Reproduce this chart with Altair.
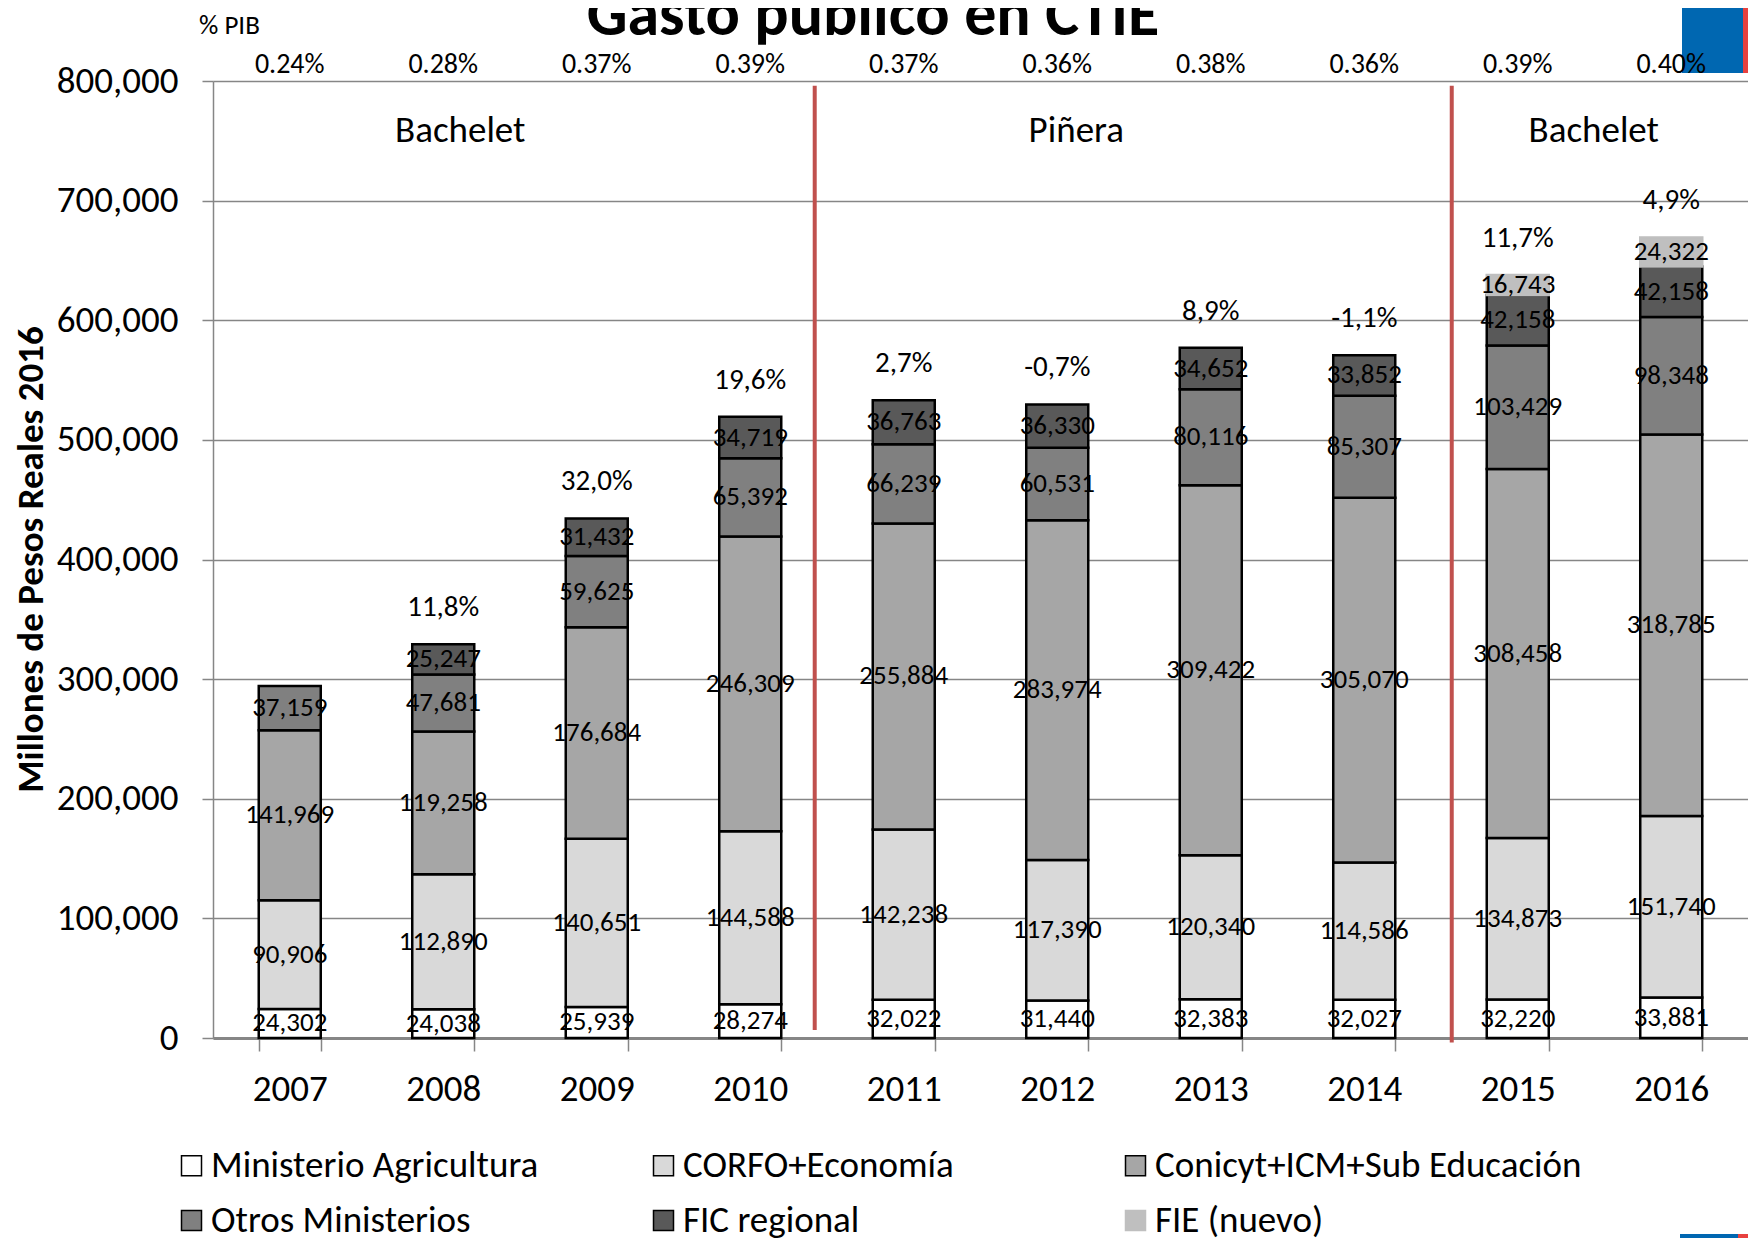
import altair as alt
import pandas as pd

FONT = "Carlito, Lato, sans-serif"

years = ["2007", "2008", "2009", "2010", "2011", "2012", "2013", "2014", "2015", "2016"]
series = ["Ministerio Agricultura", "CORFO+Economía", "Conicyt+ICM+Sub Educación",
          "Otros Ministerios", "FIC regional", "FIE (nuevo)"]
agricultura = [24302, 24038, 25939, 28274, 32022, 31440, 32383, 32027, 32220, 33881]
corfo = [90906, 112890, 140651, 144588, 142238, 117390, 120340, 114586, 134873, 151740]
conicyt = [141969, 119258, 176684, 246309, 255884, 283974, 309422, 305070, 308458, 318785]
otros = [37159, 47681, 59625, 65392, 66239, 60531, 80116, 85307, 103429, 98348]
fic = [0, 25247, 31432, 34719, 36763, 36330, 34652, 33852, 42158, 42158]
fie = [0, 0, 0, 0, 0, 0, 0, 0, 16743, 24322]
pib = ["0.24%", "0.28%", "0.37%", "0.39%", "0.37%", "0.36%", "0.38%", "0.36%", "0.39%", "0.40%"]
growth = ["", "11,8%", "32,0%", "19,6%", "2,7%", "-0,7%", "8,9%", "-1,1%", "11,7%", "4,9%"]
presidents = ["Bachelet", "Piñera", "Bachelet"]
president_year = ["2008", "2012", "2015"]
president_shift = [17, 19, 76]
# government changes, in year units (between bars)
divider_time = [2010.42, 2014.57]
divider_top = [796000, 796000]
divider_bottom = [6700, -3700]

fills = ["#FFFFFF", "#D9D9D9", "#A6A6A6", "#808080", "#595959", "#BFBFBF"]
strokes = ["#000000", "#000000", "#000000", "#000000", "#000000", "#BFBFBF"]

values_by_series = [agricultura, corfo, conicyt, otros, fic, fie]

rows = []
for i, y in enumerate(years):
    base = 0
    for k, s in enumerate(series):
        v = values_by_series[k][i]
        if v > 0:
            rows.append({"year": y, "series": s, "order": k, "y0": base, "y1": base + v,
                         "mid": base + v / 2, "label": f"{v:,}"})
        base += v
seg = pd.DataFrame(rows)

totals = [sum(values_by_series[k][i] for k in range(len(series))) for i in range(len(years))]
yr = pd.DataFrame({"year": years, "total": totals, "growth": growth, "pib": pib})
div = pd.DataFrame({"t": divider_time, "top": divider_top, "bottom": divider_bottom})

GRAY = "#868686"

xscale = alt.Scale(domain=years, paddingInner=0.596, paddingOuter=0.298)
yscale = alt.Scale(domain=[0, 800000], nice=False, zero=True)

yaxis = alt.Axis(values=list(range(0, 800001, 100000)), format=",.0f",
                 labelFont=FONT, labelFontSize=37, labelColor="black", labelPadding=24,
                 tickSize=11, tickColor=GRAY, tickWidth=1.5,
                 domainColor=GRAY, domainWidth=1.5,
                 grid=True, gridColor=GRAY, gridWidth=1.5,
                 title="Millones de Pesos Reales 2016", titleFont=FONT,
                 titleFontSize=37, titleFontWeight="bold", titleColor="black",
                 titleAngle=-90, titleX=-182, titleY=478, titleAlign="center",
                 titleBaseline="middle")

legend = alt.Legend(
    title=None, orient="none", legendX=-40, legendY=1066, direction="horizontal",
    columns=3, gridAlign="all", columnPadding=7, rowPadding=17,
    symbolType="square", symbolSize=400, symbolStrokeWidth=1.5,
    labelFont=FONT, labelFontSize=37, labelColor="black", labelOffset=1, labelLimit=700,
)

bars = alt.Chart(seg).mark_bar(strokeWidth=2.5).encode(
    x=alt.X("year:N", scale=xscale, title=None,
            axis=alt.Axis(tickBand="extent", tickSize=13, tickColor=GRAY, tickWidth=1.5,
                          domainColor=GRAY, domainWidth=3, labelFont=FONT, labelFontSize=37,
                          labelColor="black", labelPadding=20, labelAngle=0)),
    y=alt.Y("y0:Q", scale=yscale, axis=yaxis),
    y2="y1:Q",
    fill=alt.Fill("series:N", scale=alt.Scale(domain=series, range=fills), legend=legend),
    stroke=alt.Stroke("series:N", scale=alt.Scale(domain=series, range=strokes), legend=legend),
    order=alt.Order("order:Q"),
)

seg_labels = alt.Chart(seg).mark_text(font=FONT, fontSize=27, color="black", baseline="middle").encode(
    x=alt.X("year:N", scale=xscale),
    y=alt.Y("mid:Q", scale=yscale, axis=yaxis),
    text="label:N",
)

growth_labels = alt.Chart(yr).mark_text(font=FONT, fontSize=29, color="black", baseline="middle", dy=-37).encode(
    x=alt.X("year:N", scale=xscale),
    y=alt.Y("total:Q", scale=yscale, axis=yaxis),
    text="growth:N",
)

pib_labels = alt.Chart(yr).mark_text(font=FONT, fontSize=28, color="black", baseline="middle").encode(
    x=alt.X("year:N", scale=xscale),
    y=alt.datum(813000),
    text="pib:N",
)

pres_layers = []
for name, yv, sh in zip(presidents, president_year, president_shift):
    pres_layers.append(
        alt.Chart(pd.DataFrame({"year": [yv], "name": [name]})).mark_text(
            font=FONT, fontSize=37, color="black", baseline="middle", dx=sh).encode(
            x=alt.X("year:N", scale=xscale), y=alt.datum(758000), text="name:N"))

base_layer = alt.layer(
    bars, seg_labels, growth_labels, pib_labels, *pres_layers,
)

dividers = alt.Chart(div).mark_rule(color="#C0504D", strokeWidth=4).encode(
    x=alt.X("t:Q", scale=alt.Scale(domain=[2006.5, 2016.5], nice=False, zero=False), axis=None),
    y=alt.Y("top:Q", scale=yscale, axis=yaxis),
    y2="bottom:Q",
)

pib_title = alt.Chart(pd.DataFrame({"t": ["% PIB"]})).mark_text(
    font=FONT, fontSize=27, color="black", align="left", baseline="middle").encode(
    x=alt.value(-14), y=alt.value(-55), text="t:N")

main_title = alt.Chart(pd.DataFrame({"t": ["Gasto público en CTIE"]})).mark_text(
    font=FONT, fontSize=64, fontWeight="bold", color="black", align="center", baseline="alphabetic").encode(
    x=alt.value(660), y=alt.value(-46), text="t:N")

deco_blue = alt.Chart(pd.DataFrame({"a": [0]})).mark_rect(color="#0067B1").encode(
    x=alt.value(1469), x2=alt.value(1530), y=alt.value(-90), y2=alt.value(-8))
deco_red = alt.Chart(pd.DataFrame({"a": [0]})).mark_rect(color="#E8413F").encode(
    x=alt.value(1530), x2=alt.value(1545), y=alt.value(-90), y2=alt.value(-8))
deco_blue2 = alt.Chart(pd.DataFrame({"a": [0]})).mark_rect(color="#0067B1").encode(
    x=alt.value(1467), x2=alt.value(1525), y=alt.value(1153), y2=alt.value(1170))
deco_red2 = alt.Chart(pd.DataFrame({"a": [0]})).mark_rect(color="#E8413F").encode(
    x=alt.value(1525), x2=alt.value(1545), y=alt.value(1153), y2=alt.value(1170))

chart = alt.layer(
    deco_blue, deco_red, deco_blue2, deco_red2,
    base_layer, dividers, pib_title, main_title,
).resolve_scale(x="independent").properties(
    width=1535, height=957,
    autosize=alt.AutoSizeParams(type="none"),
    padding={"left": 205, "top": 73, "right": 0, "bottom": 200},
    background="white",
).configure_view(stroke=None)

chart.save("out.html", embed_options={"renderer": "svg", "actions": False})
